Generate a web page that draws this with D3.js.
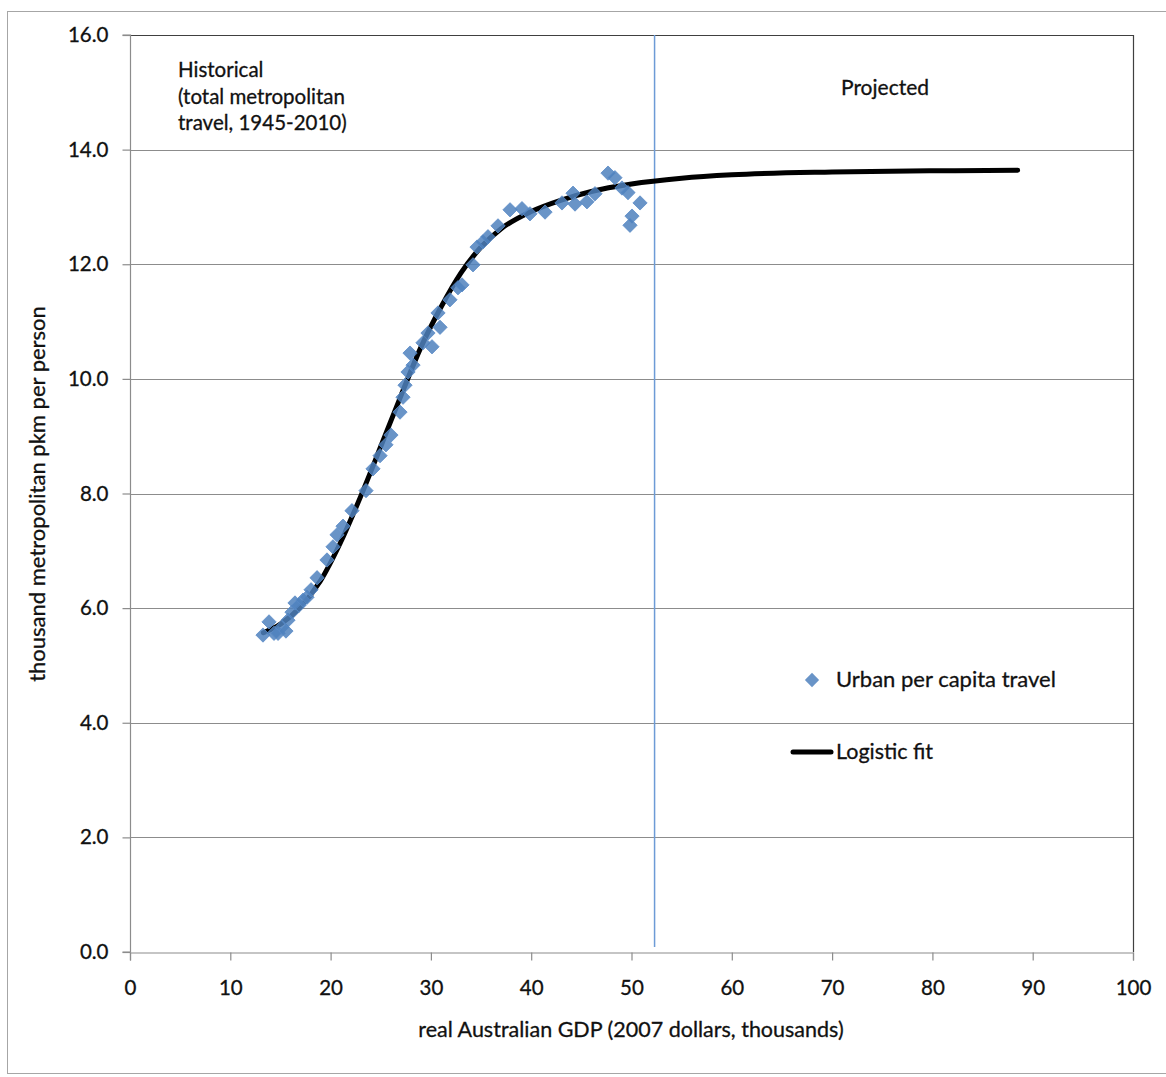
<!DOCTYPE html>
<html>
<head>
<meta charset="utf-8">
<script src="https://cdn.jsdelivr.net/npm/d3@7"></script>
<style>
  html, body { margin: 0; padding: 0; background: #fff; }
  svg text { font-family: Lato, "Open Sans", sans-serif; fill: #111; stroke: #111; stroke-width: 0.3px; }
</style>
</head>
<body>
<svg id="chart" width="1166" height="1077"></svg>
<script>
// ---- data ----
const xTicks = [0, 10, 20, 30, 40, 50, 60, 70, 80, 90, 100];
const yTicks = [0, 2, 4, 6, 8, 10, 12, 14, 16];

// Observed urban per capita travel (GDP thousands, thousand pkm per person)
const obsX = [13.26, 13.86, 14.36, 14.76, 15.15, 15.55, 15.75, 16.15, 16.45, 16.85,
  17.25, 17.65, 18.05, 18.65, 19.64, 20.24, 20.64, 21.24, 22.13, 23.53,
  24.23, 24.93, 25.52, 26.02, 26.92, 27.22, 27.42, 27.72, 27.92, 28.22,
  29.21, 29.71, 30.11, 30.71, 30.91, 31.90, 32.70, 33.10, 34.20, 34.60,
  35.19, 35.69, 36.69, 37.89, 39.08, 39.88, 41.38, 43.07, 44.17, 44.37,
  45.56, 46.36, 47.66, 48.35, 49.05, 49.65, 50.85, 50.05, 49.85];
const obsY = [5.53, 5.76, 5.56, 5.56, 5.67, 5.60, 5.79, 5.93, 6.09, 6.05,
  6.14, 6.19, 6.32, 6.53, 6.84, 7.07, 7.28, 7.43, 7.70, 8.05,
  8.43, 8.66, 8.85, 9.02, 9.42, 9.68, 9.89, 10.12, 10.45, 10.24,
  10.63, 10.80, 10.56, 11.15, 10.90, 11.38, 11.59, 11.64, 11.99, 12.30,
  12.39, 12.48, 12.67, 12.95, 12.97, 12.88, 12.91, 13.07, 13.24, 13.05,
  13.09, 13.23, 13.59, 13.51, 13.33, 13.25, 13.07, 12.84, 12.68];

// Logistic fit curve
const fitX = [13.3, 15, 17, 19, 21, 23, 25, 27, 29, 31, 33, 35, 37, 40, 43, 46, 50, 55, 60, 70, 80, 88.5];
const fitY = [5.57, 5.72, 6.02, 6.48, 7.15, 7.95, 8.82, 9.70, 10.55, 11.25, 11.85, 12.30, 12.62, 12.92, 13.12, 13.27, 13.40, 13.50, 13.56, 13.61, 13.63, 13.64];

const dividerX = 52.3;

// ---- drawing ----
const svg = d3.select("#chart");
const x = d3.scaleLinear().domain([0, 100]).range([130, 1133]);
const y = d3.scaleLinear().domain([0, 16]).range([952, 35]);

// outer frame
svg.append("rect").attr("x", 7.5).attr("y", 11.5).attr("width", 1170).attr("height", 1062)
  .attr("fill", "none").attr("stroke", "#a6a6a6").attr("stroke-width", 1);

// gridlines
svg.append("g").selectAll("line").data(yTicks.filter(d => d > 0 && d < 16)).join("line")
  .attr("x1", x(0)).attr("x2", x(100))
  .attr("y1", d => Math.round(y(d)) + 0.5).attr("y2", d => Math.round(y(d)) + 0.5)
  .attr("stroke", "#8c8c8c").attr("stroke-width", 1);

// plot border (top/right)
svg.append("path")
  .attr("d", `M${x(0)},${y(16)+0.5}H${x(100)+0.5}V${y(0)}`)
  .attr("fill", "none").attr("stroke", "#404040").attr("stroke-width", 1.2);

// axes
const yAxis = d3.axisLeft(y).tickValues(yTicks).tickSize(8).tickPadding(14).tickFormat(d3.format(".1f"));
const gy = svg.append("g").attr("transform", `translate(${x(0)+0.5},0)`).call(yAxis);
const xAxis = d3.axisBottom(x).tickValues(xTicks).tickSize(8).tickPadding(20).tickFormat(d3.format("d"));
const gx = svg.append("g").attr("transform", `translate(0,${y(0)+0.5})`).call(xAxis);
[gx, gy].forEach(g => {
  g.select(".domain").attr("stroke", "#8c8c8c").attr("stroke-width", 1.2);
  g.selectAll(".tick line").attr("stroke", "#8c8c8c").attr("stroke-width", 1.2);
  g.selectAll(".tick text").attr("font-size", 20.5).attr("font-family", "Lato, sans-serif")
    .attr("fill", "#111").attr("stroke", "#111").attr("stroke-width", 0.3);
});
gy.select(".domain").attr("d", `M-8,${y(0)}H0V${y(16)}H-8`);

// vertical divider
svg.append("line")
  .attr("x1", x(dividerX)).attr("x2", x(dividerX))
  .attr("y1", y(16)).attr("y2", y(0) - 5)
  .attr("stroke", "#6d9bd6").attr("stroke-width", 1.5);

// logistic fit
const fit = fitX.map((v, i) => [v, fitY[i]]);
svg.append("path")
  .attr("d", d3.line().x(d => x(d[0])).y(d => y(d[1])).curve(d3.curveMonotoneX)(fit))
  .attr("fill", "none").attr("stroke", "#000").attr("stroke-width", 5)
  .attr("stroke-linecap", "round");

// observed points
const diamond = d3.symbol().type(d3.symbolDiamond2).size(130);
svg.append("g").selectAll("path").data(obsX.map((v, i) => [v, obsY[i]])).join("path")
  .attr("d", diamond)
  .attr("transform", d => `translate(${x(d[0])},${y(d[1])})`)
  .attr("fill", "#4f81bd").attr("fill-opacity", 0.85)
  .attr("stroke", "#5b8cc8").attr("stroke-width", 0.8);

// annotations
const hist = svg.append("text").attr("x", 178).attr("y", 77).attr("font-size", 20.5);
["Historical", "(total metropolitan", "travel, 1945-2010)"].forEach((t, i) =>
  hist.append("tspan").attr("x", 178).attr("dy", i === 0 ? 0 : 26.5).text(t));
svg.append("text").attr("x", 885).attr("y", 95).attr("font-size", 21).attr("text-anchor", "middle").text("Projected");

// legend
svg.append("path").attr("d", d3.symbol().type(d3.symbolDiamond2).size(130))
  .attr("transform", `translate(812,680)`).attr("fill", "#4f81bd").attr("fill-opacity", 0.85);
svg.append("text").attr("x", 836).attr("y", 687).attr("font-size", 22).text("Urban per capita travel");
svg.append("line").attr("x1", 793).attr("x2", 831).attr("y1", 752).attr("y2", 752)
  .attr("stroke", "#000").attr("stroke-width", 5).attr("stroke-linecap", "round");
svg.append("text").attr("x", 836).attr("y", 759).attr("font-size", 21.5).text("Logistic fit");

// axis titles
svg.append("text").attr("x", 631).attr("y", 1037).attr("font-size", 21.5).attr("text-anchor", "middle")
  .text("real Australian GDP (2007 dollars, thousands)");
svg.append("text").attr("transform", "translate(45,494) rotate(-90)").attr("font-size", 22)
  .attr("text-anchor", "middle").text("thousand metropolitan pkm per person");
</script>
</body>
</html>
